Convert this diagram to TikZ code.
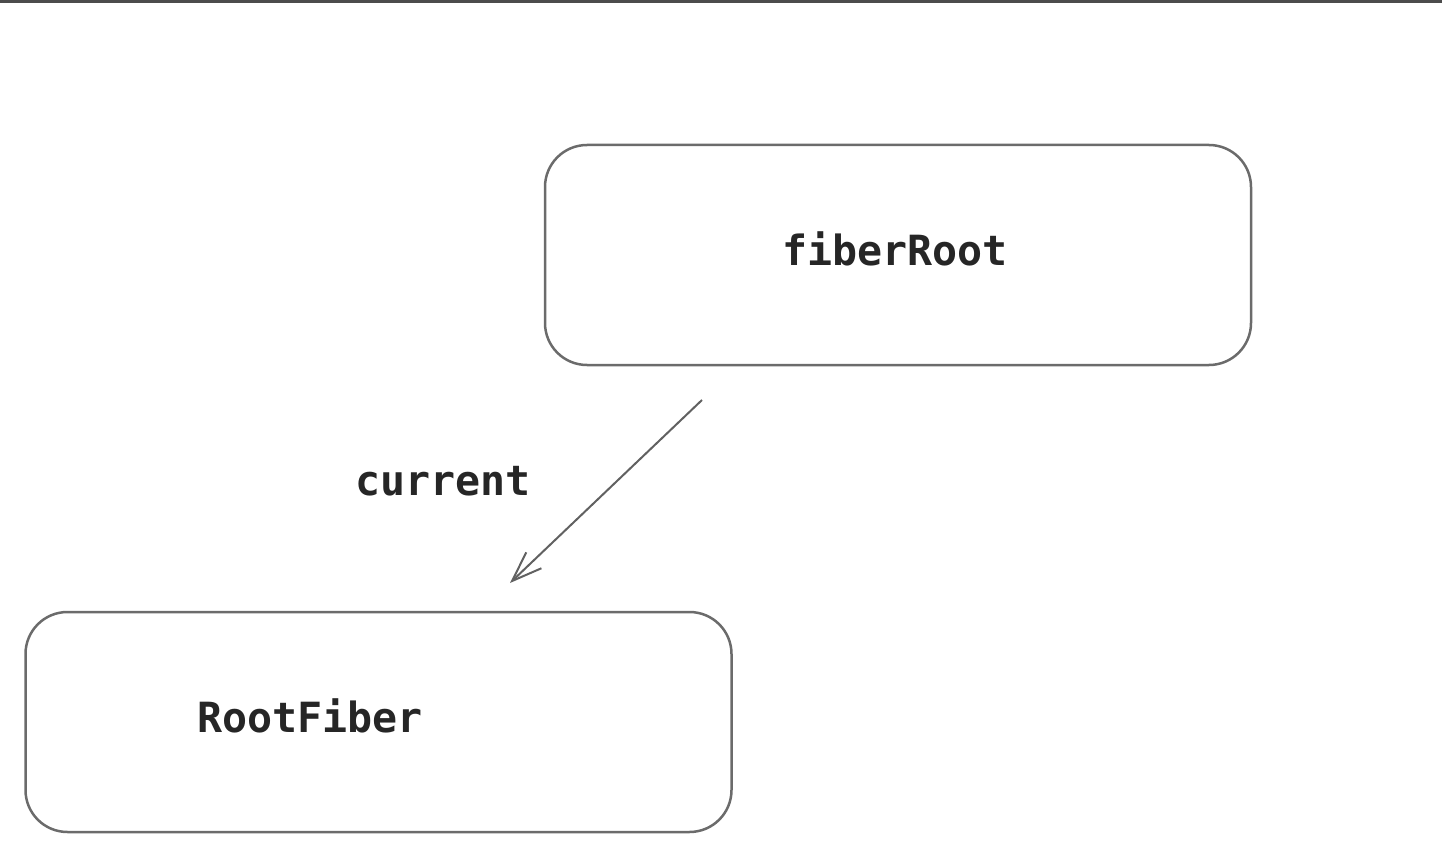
\documentclass[tikz,border=0pt]{standalone}
\usepackage{fontspec}
\setmonofont{DejaVu Sans Mono}
\usetikzlibrary{arrows.meta}
\tikzset{
  fiberbox/.style={draw=black!58, line width=1.25pt, rounded corners=21pt, minimum width=353pt, minimum height=110pt, inner sep=0pt},
  fibertext/.style={anchor=base, inner sep=0pt, font=\ttfamily\bfseries\fontsize{20.8}{25}\selectfont, text=black!85},
}
\begin{document}
\begin{tikzpicture}[x=0.5pt, y=-0.5pt]
\useasboundingbox (0,0) rectangle (1442,856);
\fill[black!70] (0,0) rectangle (1442,3);
%Boxes
\node[fiberbox] (fiberRoot) at (898, 255) {};
\node[fiberbox] (RootFiber) at (378.5, 722) {};
%Text
\node[fibertext] (fiberRootText) at (895, 265) {fiberRoot};
\node[fibertext] (RootFiberText) at (310, 732) {RootFiber};
\node[fibertext] (currentText) at (443, 495) {current};
%Arrow
\coordinate (from) at (702, 400);
\coordinate (to) at (510, 583);
\draw[black!62, line width=1pt, -{Straight Barb[length=15pt, width=11pt, line width=1pt]}] (from) -- (to);
\end{tikzpicture}
\end{document}
